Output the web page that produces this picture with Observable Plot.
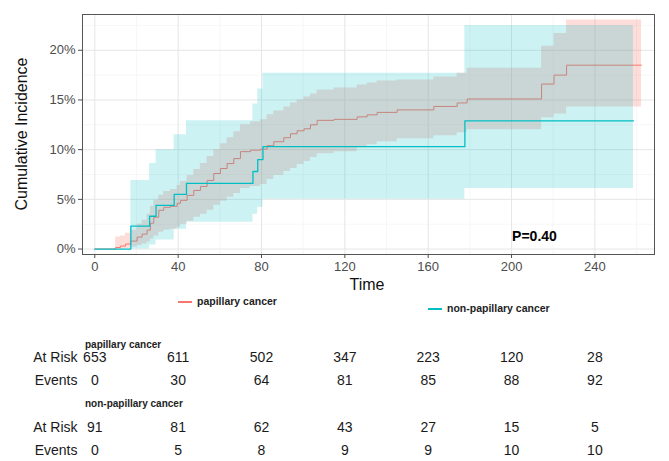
<!DOCTYPE html>
<html><head><meta charset="utf-8">
<script src="https://cdn.jsdelivr.net/npm/d3@7"></script>
<script src="https://cdn.jsdelivr.net/npm/@observablehq/plot@0.6"></script>
<style>
body{margin:0;background:#fff;font-family:"Liberation Sans",Arial,sans-serif;}
#wrap{position:relative;width:669px;height:461px;overflow:hidden;background:#fff;}
.abs{position:absolute;white-space:nowrap;}
.plot{position:absolute;left:0;}
</style></head><body><div id="wrap"></div>
<script>
// ---- data ----
const groups = ["papillary cancer", "non-papillary cancer"];
const colors = ["#F8766D", "#00BFC4"];

// papillary cancer: cumulative incidence (%) step curve with 95% CI
const papTime = [0, 10, 12.3, 14.7, 17.1, 20.3, 22.7, 25.1, 26.7, 28.3, 30.7, 33.1, 36.3, 39.5, 41.1, 44.3, 47.5, 50.7, 53.9, 57.1, 60.3, 63.5, 66.7, 69.9, 74.7, 79.5, 82.7, 85.9, 90.7, 93.9, 97.1, 100.4, 103.5, 106.7, 114.8, 125.9, 130.7, 135.5, 145.1, 162.7, 173.9, 178.7, 214.4, 220.4, 226.4, 262.4];
const papCI   = [0, 0.15, 0.3, 0.5, 0.8, 1.2, 1.5, 1.9, 2.6, 3.2, 3.9, 4.2, 4.3, 4.6, 4.9, 5.4, 5.9, 6.3, 6.9, 7.6, 8.1, 8.6, 9.1, 9.8, 9.95, 10.05, 10.4, 10.8, 11.2, 11.6, 11.9, 12.1, 12.5, 12.95, 13.05, 13.3, 13.5, 13.75, 14.0, 14.35, 14.7, 15.1, 16.6, 17.5, 18.5, 18.5];
const papLow  = [0, 0, 0, 0.05, 0.2, 0.35, 0.5, 0.7, 1.0, 1.3, 1.7, 1.9, 2.0, 2.2, 2.5, 2.8, 3.2, 3.5, 3.9, 4.4, 4.8, 5.2, 5.6, 6.1, 6.3, 6.5, 7.0, 7.4, 7.8, 8.1, 8.5, 8.8, 9.2, 9.6, 9.8, 10.2, 10.5, 10.8, 11.1, 11.4, 11.7, 12.0, 13.2, 13.6, 14.3, 14.3];
const papHigh = [0, 1.2, 1.3, 1.6, 1.9, 2.5, 2.9, 3.5, 4.3, 4.9, 5.4, 5.8, 6.0, 6.4, 6.8, 7.4, 8.0, 8.6, 9.3, 10.0, 10.6, 11.2, 11.8, 12.5, 12.8, 13.0, 13.5, 13.9, 14.3, 14.7, 15.0, 15.3, 15.6, 16.0, 16.2, 16.5, 16.7, 16.9, 17.0, 17.3, 17.7, 18.2, 20.4, 21.7, 23.05, 23.05];

// non-papillary cancer
const npTime = [0, 17.3, 26.3, 29.4, 38.1, 44.0, 75.9, 78.2, 80.7, 177.6, 258.5];
const npCI   = [0, 2.3, 3.3, 4.4, 5.5, 6.6, 7.8, 9.0, 10.3, 12.9, 12.9];
const npLow  = [0, 0, 0.4, 0.9, 2.0, 2.7, 3.5, 4.2, 5.0, 6.1, 6.1];
const npHigh = [0, 6.9, 8.6, 10.0, 11.5, 12.9, 14.6, 16.1, 17.7, 22.5, 22.5];

// axes
const xMajor = [0, 40, 80, 120, 160, 200, 240];
const xMinor = [20, 60, 100, 140, 180, 220, 260];
const yMajor = [0, 5, 10, 15, 20];
const yMinor = [2.5, 7.5, 12.5, 17.5, 22.5];
const xDomain = [-5.9, 268.6];
const yDomain = [-0.55, 23.6];

// annotation
const pAnno = [{x: 211, y: 1.3, label: "P=0.40"}];

// risk table
const riskTimes = [0, 40, 80, 120, 160, 200, 240];
const rowLabels = ["At Risk", "Events"];
const papAtRisk = [653, 611, 502, 347, 223, 120, 28];
const papEvents = [0, 30, 64, 81, 85, 88, 92];
const npAtRisk  = [91, 81, 62, 43, 27, 15, 5];
const npEvents  = [0, 5, 8, 9, 9, 10, 10];

// ---- build ----
const pap = papTime.map((t, i) => ({t, ci: papCI[i], lo: papLow[i], hi: papHigh[i]}));
const np  = npTime.map((t, i) => ({t, ci: npCI[i], lo: npLow[i], hi: npHigh[i]}));
const FONT = '"Liberation Sans", Arial, sans-serif';
const wrap = document.getElementById("wrap");

const chart = Plot.plot({
  width: 669, height: 300,
  marginLeft: 82, marginRight: 15, marginTop: 14, marginBottom: 46,
  x: {domain: xDomain},
  y: {domain: yDomain},
  style: {fontFamily: FONT, fontSize: "13px", color: "#4d4d4d", background: "transparent"},
  marks: [
    Plot.ruleX(xMinor, {stroke: "#f3f3f3", strokeWidth: 0.7}),
    Plot.ruleY(yMinor, {stroke: "#f3f3f3", strokeWidth: 0.7}),
    Plot.ruleX(xMajor, {stroke: "#e6e6e6", strokeWidth: 1}),
    Plot.ruleY(yMajor, {stroke: "#e6e6e6", strokeWidth: 1}),
    Plot.areaY(pap, {x: "t", y1: "lo", y2: "hi", curve: "step-after", fill: colors[0], fillOpacity: 0.25}),
    Plot.line(pap, {x: "t", y: "ci", curve: "step-after", stroke: colors[0], strokeWidth: 1}),
    Plot.areaY(np, {x: "t", y1: "lo", y2: "hi", curve: "step-after", fill: colors[1], fillOpacity: 0.2}),
    Plot.line(np, {x: "t", y: "ci", curve: "step-after", stroke: colors[1], strokeWidth: 1.3}),
    Plot.text(pAnno, {x: "x", y: "y", text: "label", fontWeight: "bold", fontSize: 14, fill: "#000"}),
    Plot.frame({stroke: "#555", strokeWidth: 1}),
    Plot.axisX({ticks: xMajor, tickSize: 4, tickPadding: 3, label: null, fontSize: 13}),
    Plot.axisY({ticks: yMajor, tickFormat: d => d + "%", tickSize: 4, tickPadding: 3, label: null, fontSize: 13})
  ]
});
chart.classList.add("plot");
chart.style.top = "0px";
wrap.appendChild(chart);

function addText(txt, css) {
  const d = document.createElement("div");
  d.className = "abs";
  d.textContent = txt;
  Object.assign(d.style, css);
  wrap.appendChild(d);
  return d;
}

// axis titles
addText("Cumulative Incidence", {left: "-78px", top: "124px", width: "200px", textAlign: "center",
  lineHeight: "20px", fontSize: "16px", color: "#111", transform: "rotate(-90deg)"});
addText("Time", {left: "317px", top: "275px", width: "100px", textAlign: "center",
  lineHeight: "20px", fontSize: "16px", color: "#111"});

// legend
function legendItem(i, left, top) {
  const sw = document.createElement("div");
  sw.className = "abs";
  Object.assign(sw.style, {left: left + "px", top: top + "px", width: "14px", height: "2px", background: colors[i]});
  wrap.appendChild(sw);
  addText(groups[i], {left: (left + 19) + "px", top: (top - 7) + "px", lineHeight: "14px",
    fontSize: "10.5px", fontWeight: "bold", color: "#222"});
}
legendItem(0, 178, 301);
legendItem(1, 428, 308);

// risk tables
function tablePlot(risk, events, top) {
  const rows = riskTimes.flatMap((t, i) => [
    {t, row: rowLabels[0], v: risk[i]},
    {t, row: rowLabels[1], v: events[i]}
  ]);
  const p = Plot.plot({
    width: 669, height: 46,
    marginLeft: 82, marginRight: 15, marginTop: 0, marginBottom: 0,
    x: {domain: xDomain, axis: null},
    y: {type: "point", domain: rowLabels, range: [10, 33], padding: 0},
    style: {fontFamily: FONT, fontSize: "14px", color: "#1a1a1a", background: "transparent"},
    marks: [
      Plot.axisY({tickSize: 0, tickPadding: 5, label: null, fontSize: 14}),
      Plot.text(rows, {x: "t", y: "row", text: "v", fontSize: 14, fill: "#1a1a1a"})
    ]
  });
  p.classList.add("plot");
  p.style.top = top + "px";
  wrap.appendChild(p);
}
addText(groups[0], {left: "85px", top: "339px", lineHeight: "12px", fontSize: "10px", fontWeight: "bold", color: "#222"});
tablePlot(papAtRisk, papEvents, 347);
addText(groups[1], {left: "85px", top: "398px", lineHeight: "12px", fontSize: "10px", fontWeight: "bold", color: "#222"});
tablePlot(npAtRisk, npEvents, 417);
</script></body></html>
